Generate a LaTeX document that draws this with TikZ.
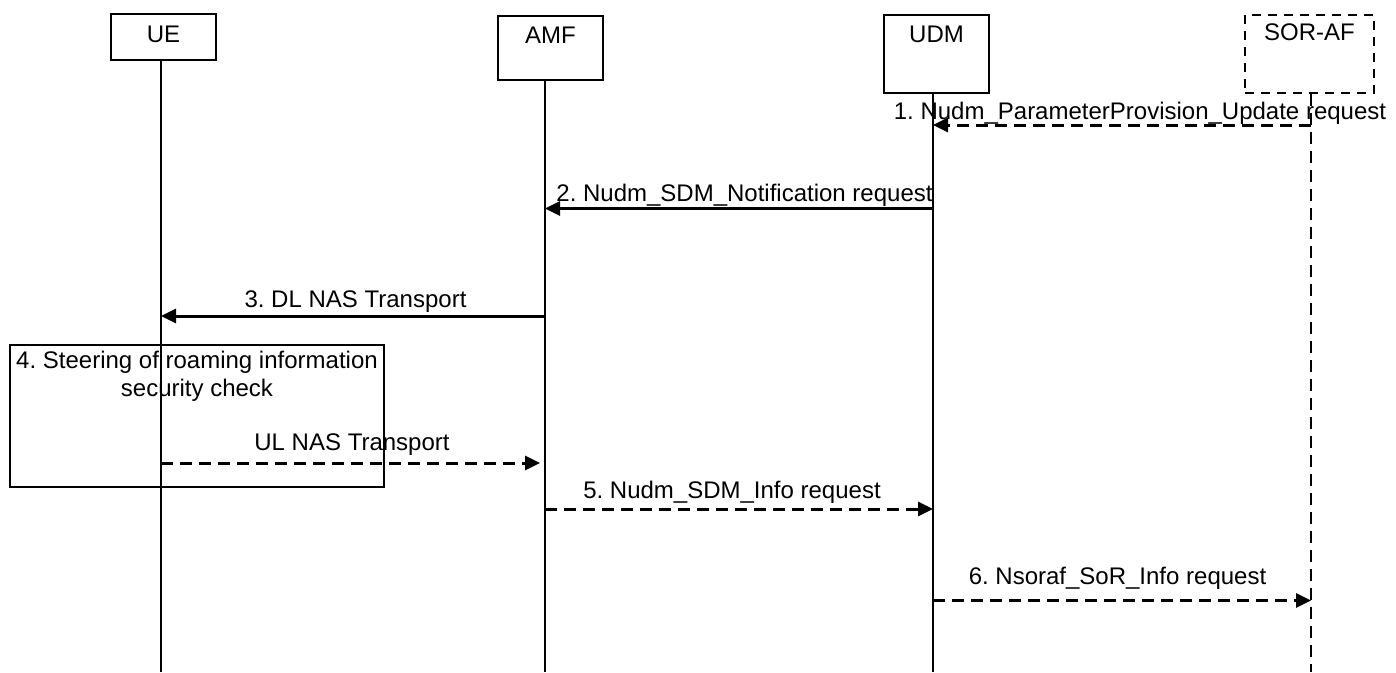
\documentclass[tikz,border=0pt]{standalone}
\usepackage{fontspec}
\setmainfont{Liberation Sans}
\usetikzlibrary{arrows.meta}
\frenchspacing
\begin{document}
\begin{tikzpicture}[x=1pt,y=-1pt,
  every node/.style={font=\fontsize{24}{28}\selectfont, inner sep=0pt},
  hdr/.style={draw, line width=2pt, minimum width=105pt, anchor=north},
  hdrd/.style={hdr, dash pattern=on 9pt off 7pt},
  life/.style={line width=1.6pt},
  lifed/.style={life, dash pattern=on 12pt off 7pt},
  msg/.style={line width=3pt, -{Triangle[length=15pt,width=14pt]}},
  msgd/.style={msg, dash pattern=on 12pt off 7pt},
  lbl/.style={anchor=base}]
\useasboundingbox (0,0) rectangle (1396,672);
% headers
\node (ue)  [hdr, text height=28pt, text depth=18pt] at (163.5,13) {UE};
\node (amf) [hdr, text height=27pt, text depth=37pt] at (550.5,15) {AMF};
\node (udm) [hdr, text height=27pt, text depth=51pt] at (936.5,14) {UDM};
\node (sor) [hdrd, minimum width=129pt, text height=25pt, text depth=53pt] at (1309.5,14) {SOR-AF};
% lifelines
\coordinate (ueB)  at (161,672);
\coordinate (amfB) at (545,672);
\coordinate (udmB) at (933,672);
\coordinate (sorB) at (1311,672);
\draw[life] (ue.south -| ueB) -- (ueB);
\draw[life] (amf.south -| amfB) -- (amfB);
\draw[life] (udm.south -| udmB) -- (udmB);
\draw[lifed] (sor.south -| sorB) -- (sorB);
% step 4 box
\node (s4) [draw, line width=2pt, anchor=north west, minimum width=374pt, minimum height=142pt,
  label={[anchor=north, align=center, yshift=-7pt, inner sep=0pt]north:4. Steering of roaming information\\security check}] at (9,344) {};
% messages
\draw[msgd] (sorB |- 0,125) -- (udmB |- 0,125);
\node (l1) [lbl] at (1140,119.5) {1. Nudm\_ParameterProvision\_Update request};
\draw[msg] (udmB |- 0,208.5) -- (amfB |- 0,208.5);
\node (l2) [lbl] at (744.5,201) {2. Nudm\_SDM\_Notification request};
\draw[msg] (amfB |- 0,316) -- (ueB |- 0,316);
\node (l3) [lbl] at (355.5,307.5) {3. DL NAS Transport};
\draw[msgd] (ueB |- 0,463) -- ([xshift=-5pt]amfB |- 0,463);
\node (lul) [lbl] at (352,450) {UL NAS Transport};
\draw[msgd] (amfB |- 0,509) -- (udmB |- 0,509);
\node (l5) [lbl] at (732,498) {5. Nudm\_SDM\_Info request};
\draw[msgd] (udmB |- 0,600.5) -- (sorB |- 0,600.5);
\node (l6) [lbl] at (1117.5,584) {6. Nsoraf\_SoR\_Info request};
\end{tikzpicture}
\end{document}
